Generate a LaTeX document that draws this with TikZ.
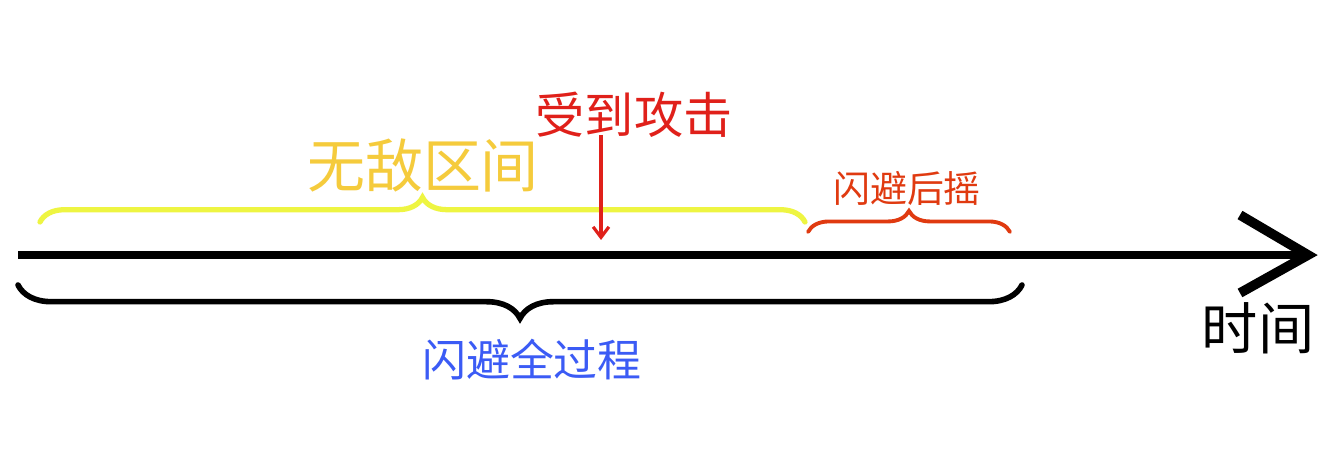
\documentclass[tikz,border=0pt]{standalone}
\usepackage{fontspec}
\newfontfamily\cjk{Noto Sans CJK SC}
\usetikzlibrary{decorations.pathreplacing,arrows.meta}
\definecolor{ylw}{HTML}{EEF542}
\definecolor{ylwtxt}{HTML}{F5CB3C}
\definecolor{hit}{HTML}{E0201A}
\definecolor{rec}{HTML}{E03A10}
\definecolor{blu}{HTML}{3B5BF5}
\tikzset{lbl/.style={font=\cjk, inner sep=0pt},
 brc/.style={decorate, decoration={brace, amplitude=#1}, line cap=round}}
\begin{document}
\begin{tikzpicture}[x=0.02cm,y=-0.02cm]
\useasboundingbox[fill=white] (0,0) rectangle (1320,469);
\coordinate (a0) at (18,255); \coordinate (a1) at (1308,255);
\draw[line width=4.5pt] (a0) -- (a1);
\coordinate (t1) at (1240,215); \coordinate (t2) at (1240,293);
\draw[line width=5.5pt, line join=miter] (t1) -- (a1) -- (t2);
% yellow brace
\coordinate (y0) at (40,222); \coordinate (y1) at (805,222);
\draw[ylw, line width=3pt, brc=14pt] (y0) -- (y1);
\node[lbl, text=ylwtxt, font=\cjk\fontsize{33}{33}\selectfont] (inv) at (423,165) {无敌区间};
% hit
\node[lbl, text=hit, font=\cjk\fontsize{28}{28}\selectfont] (hitl) at (634,115) {受到攻击};
\coordinate (h0) at (601,135); \coordinate (h1) at (601,240);
\draw[hit, line width=1.8pt, -{Straight Barb[length=6pt,width=9pt,line width=1.8pt]}] (h0) -- (h1);
% recovery brace
\coordinate (r0) at (808,232); \coordinate (r1) at (1010,232);
\draw[rec, line width=2.2pt, brc=12pt] (r0) -- (r1);
\node[lbl, text=rec, font=\cjk\fontsize{21}{21}\selectfont] (recl) at (907,188) {闪避后摇};
% black brace
\coordinate (b0) at (18,285); \coordinate (b1) at (1022,285);
\draw[line width=3.2pt, brc=19pt] (b1) -- (b0);
\node[lbl, text=blu, font=\cjk\fontsize{25}{25}\selectfont] (all) at (532,360) {闪避全过程};
\node[lbl, font=\cjk\fontsize{32}{32}\selectfont] (time) at (1258,328) {时间};
\end{tikzpicture}
\end{document}
